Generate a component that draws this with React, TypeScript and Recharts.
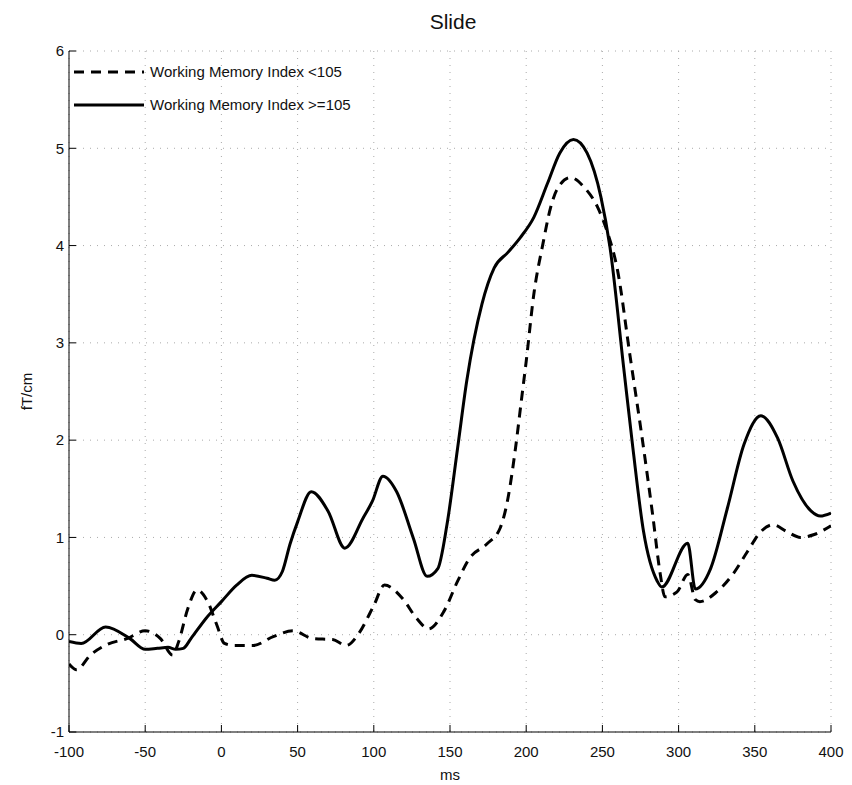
import { LineChart, Line, XAxis, YAxis, CartesianGrid, Label } from "recharts";

const lowMs = [-100, -95, -86, -75, -62, -50, -40, -32, -28, -22, -16, -9, -3, 2, 8, 21, 34, 47, 60, 73, 82, 90, 100, 107, 119, 128, 136, 146, 155, 163, 174, 183, 188, 193, 197, 200, 205, 211, 216, 220, 229, 238, 247, 253, 260, 268, 277, 283, 288, 291, 299, 306, 311, 314, 325, 336, 345, 354, 362, 371, 380, 389, 400];
const lowVals = [-0.3, -0.36, -0.21, -0.1, -0.04, 0.04, -0.04, -0.21, -0.07, 0.27, 0.46, 0.34, 0.1, -0.09, -0.11, -0.11, -0.02, 0.04, -0.04, -0.05, -0.11, 0.01, 0.3, 0.51, 0.37, 0.17, 0.06, 0.24, 0.55, 0.79, 0.93, 1.1, 1.4, 1.92, 2.43, 2.81, 3.5, 4.02, 4.39, 4.57, 4.7, 4.6, 4.39, 4.15, 3.74, 2.88, 1.92, 1.23, 0.62, 0.39, 0.44, 0.62, 0.36, 0.34, 0.44, 0.63, 0.85, 1.06, 1.13, 1.06, 1.0, 1.03, 1.12];

const highMs = [-100, -92, -76, -60, -50, -42, -35, -30, -25, -20, -10, 0, 10, 20, 30, 35, 40, 45, 50, 59, 70, 81, 93, 99, 106, 115, 126, 135, 142, 148, 155, 161, 171, 179, 188, 196, 205, 214, 222, 231, 240, 249, 255, 264, 270, 277, 286, 289, 306, 311, 321, 332, 343, 354, 365, 375, 387, 393, 400];
const highVals = [-0.07, -0.09, 0.08, -0.04, -0.15, -0.14, -0.13, -0.15, -0.14, -0.04, 0.17, 0.34, 0.51, 0.61, 0.58, 0.56, 0.65, 0.93, 1.16, 1.47, 1.27, 0.89, 1.2, 1.37, 1.63, 1.47, 0.99, 0.6, 0.68, 1.13, 1.92, 2.61, 3.4, 3.77, 3.93, 4.08, 4.29, 4.64, 4.95, 5.09, 4.95, 4.5, 3.98, 2.74, 1.92, 1.06, 0.55, 0.49, 0.94, 0.47, 0.68, 1.3, 1.96, 2.25, 2.02, 1.58, 1.27, 1.22, 1.25];

const xTicks = [-100, -50, 0, 50, 100, 150, 200, 250, 300, 350, 400];
const yTicks = [-1, 0, 1, 2, 3, 4, 5, 6];

const lowData = lowMs.map((ms, i) => ({ ms, v: lowVals[i] }));
const highData = highMs.map((ms, i) => ({ ms, v: highVals[i] }));

const font = "'Liberation Sans', Arial, sans-serif";

const LegendBox = () => (
  <div style={{ position: "absolute", top: 47, left: 62, fontFamily: font, fontSize: 15, color: "#111" }}>
    <div style={{ display: "flex", alignItems: "center", height: 33 }}>
      <svg width={76} height={10}>
        <line x1={4} y1={5} x2={74} y2={5} stroke="#000" strokeWidth={3} strokeDasharray="10 7" />
      </svg>
      <span style={{ marginLeft: 4 }}>Working Memory Index &lt;105</span>
    </div>
    <div style={{ display: "flex", alignItems: "center", height: 33 }}>
      <svg width={76} height={10}>
        <line x1={4} y1={5} x2={74} y2={5} stroke="#000" strokeWidth={3} />
      </svg>
      <span style={{ marginLeft: 4 }}>Working Memory Index &gt;=105</span>
    </div>
  </div>
);

export default function App() {
  return (
    <div style={{ position: "relative", width: 844, height: 777, background: "#fff" }}>
      <div
        style={{
          position: "absolute",
          left: 0,
          width: 890,
          top: 2,
          textAlign: "center",
          fontFamily: font,
          fontSize: 21,
          color: "#111",
        }}
      >
        Slide
      </div>
      <LineChart width={844} height={777} margin={{ top: 43, right: 21, left: 16, bottom: 13 }}>
        <CartesianGrid stroke="#aaa" strokeDasharray="1 6" />
        <XAxis
          type="number"
          dataKey="ms"
          domain={[-100, 400]}
          ticks={xTicks}
          allowDataOverflow
          stroke="#000"
          tickSize={-7}
          tickMargin={21}
          height={40}
          tick={{ fill: "#111", fontSize: 15, fontFamily: font }}
        >
          <Label value="ms" position="insideBottom" offset={-8} style={{ fill: "#111", fontSize: 15, fontFamily: font }} />
        </XAxis>
        <XAxis xAxisId="top" orientation="top" type="number" domain={[-100, 400]} ticks={xTicks} stroke="#000" tickSize={-7} tick={false} height={0} />
        <YAxis
          type="number"
          domain={[-1, 6]}
          ticks={yTicks}
          allowDataOverflow
          stroke="#000"
          tickSize={-7}
          tickMargin={12}
          width={45}
          tick={{ fill: "#111", fontSize: 15, fontFamily: font }}
        >
          <Label value="fT/cm" angle={-90} position="insideLeft" offset={3} style={{ fill: "#111", fontSize: 15, fontFamily: font, textAnchor: "middle" }} />
        </YAxis>
        <YAxis yAxisId="right" orientation="right" type="number" domain={[-1, 6]} ticks={yTicks} stroke="#000" tickSize={-7} tick={false} width={0} />
        <Line
          data={lowData}
          dataKey="v"
          name="Working Memory Index <105"
          type="monotone"
          stroke="#000"
          strokeWidth={3}
          strokeDasharray="10 7"
          dot={false}
          isAnimationActive={false}
        />
        <Line
          data={highData}
          dataKey="v"
          name="Working Memory Index >=105"
          type="monotone"
          stroke="#000"
          strokeWidth={3}
          dot={false}
          isAnimationActive={false}
        />
      </LineChart>
      <LegendBox />
    </div>
  );
}
